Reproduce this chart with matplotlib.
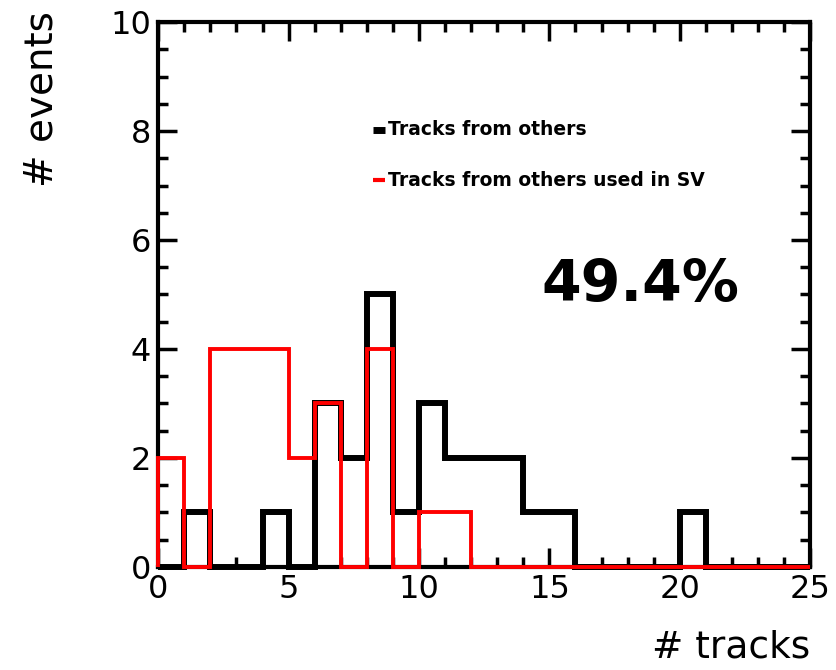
import numpy as np
import matplotlib
matplotlib.use("Agg")
import matplotlib.pyplot as plt
from matplotlib.ticker import MultipleLocator

plt.rcParams['font.family'] = ['DejaVu Sans']

# bin edges 0..25, width 1
bin_edges = np.arange(0, 26, 1)
others = [0, 1, 0, 0, 1, 0, 3, 2, 5, 1, 3, 2, 2, 2, 1, 1, 0, 0, 0, 0, 1, 0, 0, 0, 0]
others_sv = [2, 0, 4, 4, 4, 2, 3, 0, 4, 0, 1, 1, 0, 0, 0, 0, 0, 0, 0, 0, 0, 0, 0, 0, 0]
labels = ["Tracks from others", "Tracks from others used in SV"]
fraction_text = "49.4%"

fig = plt.figure(figsize=(8.37, 6.70), dpi=100)
ax = fig.add_axes([0.189, 0.154, 0.779, 0.813])

ax.stairs(others, bin_edges, color='black', linewidth=4.3, baseline=0,
          zorder=3, clip_on=False)
ax.stairs(others_sv, bin_edges, color='red', linewidth=2.8, baseline=0,
          zorder=4, clip_on=False)

ax.set_xlim(0, 25)
ax.set_ylim(0, 10)
ax.xaxis.set_major_locator(MultipleLocator(5))
ax.xaxis.set_minor_locator(MultipleLocator(1))
ax.yaxis.set_major_locator(MultipleLocator(2))
ax.yaxis.set_minor_locator(MultipleLocator(0.5))
ax.tick_params(which='both', direction='in', top=True, right=True, width=2.5)
ax.tick_params(which='major', length=14, labelsize=23, pad=5)
ax.tick_params(which='minor', length=7)
for s in ax.spines.values():
    s.set_linewidth(3)

ax.set_xlabel("# tracks", fontsize=27, loc='right')
ax.xaxis.set_label_coords(1.0, -0.115)
ax.set_ylabel("# events", fontsize=28, loc='top')
ax.yaxis.set_label_coords(-0.15, 1.02)

# legend-like block
ax.plot([8.25, 8.7], [8.02, 8.02], color='black', linewidth=5, solid_capstyle='butt')
ax.text(8.82, 8.02, labels[0], fontsize=13.5, fontweight='bold', va='center', ha='left')
ax.plot([8.25, 8.7], [7.10, 7.10], color='red', linewidth=3, solid_capstyle='butt')
ax.text(8.82, 7.10, labels[1], fontsize=13.5, fontweight='bold', va='center', ha='left')

ax.text(14.7, 5.17, fraction_text, fontsize=41, fontweight='bold', va='center', ha='left')

fig.savefig("out.png", dpi=100)
